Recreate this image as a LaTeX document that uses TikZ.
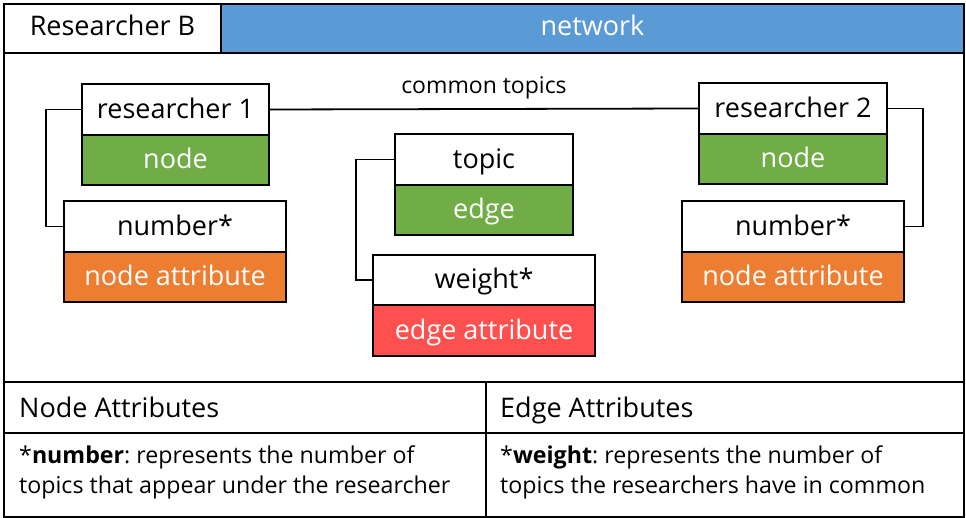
\documentclass[tikz,border=0pt]{standalone}
\usepackage{fontspec}
\setmainfont{Open Sans}
\frenchspacing
\definecolor{netblue}{HTML}{5B9BD5}
\definecolor{nodegreen}{HTML}{70AD47}
\definecolor{attorange}{HTML}{ED7D31}
\definecolor{edgered}{HTML}{FF5050}
\tikzset{
  frame/.style={draw, line width=2pt},
  cell/.style={draw, line width=2pt, inner sep=0pt, text height=18pt, text depth=0pt, font=\fontsize{27}{30}\selectfont},
  whitecell/.style={cell, fill=white, text=black},
  colcell/.style={cell, fill=#1, text=white},
  headcell/.style={frame, minimum height=49pt, inner sep=0pt, anchor=north west, text height=15pt, text depth=0pt, font=\fontsize{27}{30}\selectfont},
  link/.style={line width=1.8pt},
  head/.style={font=\fontsize{27}{30}\selectfont, inner sep=0pt, anchor=base west},
  body/.style={font=\fontsize{23.2}{30}\selectfont, inner sep=0pt, align=left, anchor=base west}
}
\begin{document}
\begin{tikzpicture}[x=1pt,y=-1pt]
\useasboundingbox (0,0) rectangle (966,518);
% header
\node[headcell, minimum width=217pt] (rb) at (3,3) {Researcher B};
\node[headcell, fill=netblue, text=white, minimum width=743pt] (net) at (220,3) {network};
\node[frame, minimum width=960pt, minimum height=329pt, anchor=north west] (main) at (3,52) {};
% bottom table
\node[frame, minimum width=482pt, minimum height=51pt, anchor=north west, inner sep=0pt] (nah) at (3,381) {};
\node[frame, minimum width=478pt, minimum height=51pt, anchor=north west, inner sep=0pt] (eah) at (485,381) {};
\node[frame, minimum width=482pt, minimum height=84pt, anchor=north west, inner sep=0pt] (nab) at (3,432) {};
\node[frame, minimum width=478pt, minimum height=84pt, anchor=north west, inner sep=0pt] (eab) at (485,432) {};
\node[head] (nat) at (19,417) {Node Attributes};
\node[head] (eat) at (500,417) {Edge Attributes};
\node[body] (nad) at (19,493) {*\textbf{number}: represents the number of\\topics that appear under the researcher};
\node[body] (ead) at (500,493) {*\textbf{weight}: represents the number of\\topics the researchers have in common};
% researcher 1
\node[whitecell, minimum width=187pt, minimum height=51pt] (r1) at (175.5,109.5) {researcher 1};
\node[colcell=nodegreen, minimum width=187pt, minimum height=50pt] (r1n) at (175.5,160) {node};
% researcher 2
\node[whitecell, minimum width=188pt, minimum height=51pt] (r2) at (793,108.5) {researcher 2};
\node[colcell=nodegreen, minimum width=188pt, minimum height=50pt] (r2n) at (793,159) {node};
% topic
\node[whitecell, minimum width=178pt, minimum height=51pt] (tp) at (484,159.5) {topic};
\node[colcell=nodegreen, minimum width=178pt, minimum height=50pt] (tpe) at (484,210) {edge};
% number left
\node[whitecell, minimum width=222pt, minimum height=51pt] (n1) at (175,226.5) {number*};
\node[colcell=attorange, minimum width=222pt, minimum height=50pt] (n1a) at (175,277) {node attribute};
% number right
\node[whitecell, minimum width=222pt, minimum height=51pt] (n2) at (793,226.5) {number*};
\node[colcell=attorange, minimum width=222pt, minimum height=50pt] (n2a) at (793,277) {node attribute};
% weight
\node[whitecell, minimum width=222pt, minimum height=50pt] (wt) at (484,280) {weight*};
\node[colcell=edgered, minimum width=222pt, minimum height=51pt] (wta) at (484,330.5) {edge attribute};
% connectors
\draw[link] (r1.east) -- node[midway, anchor=base, yshift=15pt, font=\fontsize{23}{26}\selectfont, inner sep=0pt] (ct) {common topics} (r2.west);
\draw[link] (r1.west) -| (46,226.5) -- (n1.west);
\draw[link] (r2.east) -| (923,226.5) -- (n2.east);
\draw[link] (tp.west) -| (356,280) -- (wt.west);
\end{tikzpicture}
\end{document}
